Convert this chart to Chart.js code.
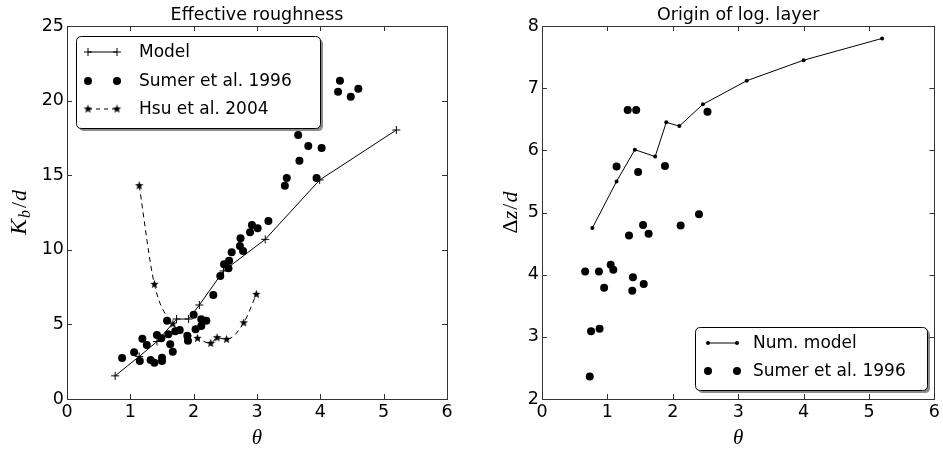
<!DOCTYPE html>
<html>
<head>
<meta charset="utf-8">
<script src="https://cdn.jsdelivr.net/npm/chart.js@4"></script>
<style>
    body { margin: 0; background: #fff; }
    #wrap { position: relative; width: 943px; height: 451px; }
    #leftChart { position: absolute; left: 0; top: 0; }
    #rightChart { position: absolute; left: 480px; top: 0; }
</style>
</head>
<body>
<div id="wrap">
    <canvas id="leftChart" width="480" height="451"></canvas>
    <canvas id="rightChart" width="463" height="451"></canvas>
</div>
<script>
// Dados - rugosidade efetiva (painel esquerdo)
const modelTheta = [0.76, 1.14, 1.42, 1.73, 1.92, 2.09, 2.47, 3.13, 3.99, 5.2];
const modelKb = [1.55, 2.85, 3.85, 5.36, 5.36, 6.3, 8.58, 10.7, 14.68, 18.03];

const sumerTheta = [0.87, 1.06, 1.15, 1.19, 1.26, 1.32, 1.38, 1.50, 1.50, 1.42, 1.49, 1.60, 1.63, 1.67,
    1.58, 1.71, 1.78, 1.90, 1.91, 2.00, 2.03, 2.12, 2.12, 2.20, 2.31, 2.42, 2.48, 2.55, 2.56, 2.60,
    2.73, 2.74, 2.78, 2.89, 2.92, 3.01, 3.18, 3.44, 3.47, 3.65, 3.67, 3.81, 3.94, 4.02, 4.28, 4.31, 4.48, 4.60];
const sumerKb = [2.75, 3.13, 2.55, 4.04, 3.62, 2.61, 2.43, 2.77, 2.55, 4.29, 4.07, 4.34, 3.67, 3.17,
    5.25, 4.54, 4.62, 4.24, 3.91, 5.65, 4.67, 5.34, 4.89, 5.25, 6.97, 8.24, 9.03, 8.76, 9.27, 9.83,
    10.25, 10.77, 9.92, 11.17, 11.66, 11.44, 11.93, 14.30, 14.81, 17.70, 15.97, 16.96, 14.81, 16.82, 20.60, 21.33, 20.26, 20.80];

const hsuTheta = [1.14, 1.38, 1.67, 2.06, 2.27, 2.37, 2.52, 2.79, 2.99];
const hsuKb = [14.3, 7.69, 5.03, 4.07, 3.73, 4.11, 4.0, 5.11, 7.02];

// Dados - origem da camada log (painel direito)
const numTheta = [0.77, 1.14, 1.42, 1.73, 1.90, 2.10, 2.46, 3.13, 4.0, 5.2];
const numDz = [4.75, 5.50, 6.01, 5.90, 6.45, 6.39, 6.74, 7.12, 7.45, 7.80];

const sumerDzTheta = [1.31, 1.44, 1.14, 1.47, 1.88, 2.53, 2.40, 1.33, 1.545, 1.63, 2.12, 0.66, 0.87,
    1.05, 1.09, 0.95, 1.39, 1.38, 1.555, 0.75, 0.88, 0.73];
const sumerDz = [6.65, 6.65, 5.74, 5.65, 5.75, 6.62, 4.97, 4.63, 4.80, 4.66, 4.79, 4.05, 4.05,
    4.16, 4.08, 3.79, 3.96, 3.74, 3.85, 3.09, 3.13, 2.36];

const thetaTicks = [0, 1, 2, 3, 4, 5, 6];

const FONT = '"DejaVu Sans", sans-serif';
const MATH = '"Liberation Serif", "DejaVu Serif", serif';

function toPoints(xs, ys) {
    return xs.map((x, i) => ({ x: x, y: ys[i] }));
}

// Estrela preenchida (marcador '*')
function makeStar(r) {
    const c = document.createElement('canvas');
    const s = Math.ceil(r * 2 + 2);
    c.width = s; c.height = s;
    const ctx = c.getContext('2d');
    ctx.fillStyle = '#000';
    ctx.beginPath();
    for (let i = 0; i < 10; i++) {
        const rad = i % 2 === 0 ? r : r * 0.42;
        const a = -Math.PI / 2 + i * Math.PI / 5;
        const px = s / 2 + rad * Math.cos(a);
        const py = s / 2 + rad * Math.sin(a);
        if (i === 0) ctx.moveTo(px, py); else ctx.lineTo(px, py);
    }
    ctx.closePath();
    ctx.fill();
    return c;
}
const starImg = makeStar(4.5);

function drawMarker(ctx, kind, x, y) {
    ctx.save();
    ctx.fillStyle = '#000';
    ctx.strokeStyle = '#000';
    ctx.lineWidth = 1;
    if (kind === 'cross') {
        ctx.beginPath();
        ctx.moveTo(x - 4, y); ctx.lineTo(x + 4, y);
        ctx.moveTo(x, y - 4); ctx.lineTo(x, y + 4);
        ctx.stroke();
    } else if (kind === 'dot') {
        ctx.beginPath(); ctx.arc(x, y, 4, 0, Math.PI * 2); ctx.fill();
    } else if (kind === 'small') {
        ctx.beginPath(); ctx.arc(x, y, 2, 0, Math.PI * 2); ctx.fill();
    } else if (kind === 'star') {
        ctx.drawImage(starImg, x - starImg.width / 2, y - starImg.height / 2);
    }
    ctx.restore();
}

// Plugin: moldura, ticks internos, título, rótulos e legenda no estilo matplotlib
const framePlugin = {
    id: 'frame',
    afterDraw(chart, args, opts) {
        const ctx = chart.ctx;
        const a = chart.chartArea;
        const xs = chart.scales.x, ys = chart.scales.y;
        ctx.save();
        ctx.strokeStyle = '#333';
        ctx.lineWidth = 1;
        ctx.strokeRect(Math.round(a.left) + 0.5, Math.round(a.top) + 0.5,
            Math.round(a.right - a.left), Math.round(a.bottom - a.top));
        ctx.beginPath();
        xs.ticks.forEach(t => {
            const px = Math.round(xs.getPixelForValue(t.value)) + 0.5;
            ctx.moveTo(px, a.bottom); ctx.lineTo(px, a.bottom - 5);
            ctx.moveTo(px, a.top); ctx.lineTo(px, a.top + 5);
        });
        ys.ticks.forEach(t => {
            const py = Math.round(ys.getPixelForValue(t.value)) + 0.5;
            ctx.moveTo(a.left, py); ctx.lineTo(a.left + 5, py);
            ctx.moveTo(a.right, py); ctx.lineTo(a.right - 5, py);
        });
        ctx.stroke();

        // Título
        ctx.fillStyle = '#000';
        ctx.font = '17.5px ' + FONT;
        ctx.textAlign = 'center';
        ctx.textBaseline = 'alphabetic';
        ctx.fillText(opts.title, (a.left + a.right) / 2, 20);

        // Rótulo do eixo x (theta)
        ctx.font = 'italic 21px ' + MATH;
        ctx.fillText('\u03b8', (a.left + a.right) / 2, 444);

        // Rótulo do eixo y
        ctx.save();
        ctx.translate(opts.ylabelX, (a.top + a.bottom) / 2);
        ctx.rotate(-Math.PI / 2);
        const parts = opts.ylabel;
        let total = 0;
        parts.forEach(p => { ctx.font = p.font; total += ctx.measureText(p.text).width + (p.gap || 0); });
        let cx = -total / 2;
        ctx.textAlign = 'left';
        parts.forEach(p => {
            ctx.font = p.font;
            ctx.fillText(p.text, cx, 7 + (p.dy || 0));
            cx += ctx.measureText(p.text).width + (p.gap || 0);
        });
        ctx.restore();

        // Legenda
        const lg = opts.legend;
        ctx.save();
        ctx.fillStyle = 'rgba(0,0,0,0.45)';
        roundRect(ctx, lg.x + 3, lg.y + 3, lg.w, lg.h, 5);
        ctx.fill();
        ctx.fillStyle = '#fff';
        ctx.strokeStyle = '#000';
        ctx.lineWidth = 1;
        roundRect(ctx, lg.x + 0.5, lg.y + 0.5, lg.w, lg.h, 5);
        ctx.fill();
        ctx.stroke();
        lg.items.forEach((it, i) => {
            const y = lg.rowY[i];
            if (it.line) {
                ctx.beginPath();
                ctx.setLineDash(it.dash || []);
                ctx.moveTo(lg.mx0, y); ctx.lineTo(lg.mx1, y);
                ctx.stroke();
                ctx.setLineDash([]);
            }
            drawMarker(ctx, it.marker, lg.mx0, y);
            drawMarker(ctx, it.marker, lg.mx1, y);
            ctx.fillStyle = '#000';
            ctx.font = '17px ' + FONT;
            ctx.textAlign = 'left';
            ctx.textBaseline = 'middle';
            ctx.fillText(it.label, lg.tx, y + 1);
        });
        ctx.restore();
        ctx.restore();
    }
};

function roundRect(ctx, x, y, w, h, r) {
    ctx.beginPath();
    ctx.moveTo(x + r, y);
    ctx.lineTo(x + w - r, y);
    ctx.quadraticCurveTo(x + w, y, x + w, y + r);
    ctx.lineTo(x + w, y + h - r);
    ctx.quadraticCurveTo(x + w, y + h, x + w - r, y + h);
    ctx.lineTo(x + r, y + h);
    ctx.quadraticCurveTo(x, y + h, x, y + h - r);
    ctx.lineTo(x, y + r);
    ctx.quadraticCurveTo(x, y, x + r, y);
    ctx.closePath();
}

function axisOptions(min, max, step, yWidth) {
    return {
        x: {
            type: 'linear', min: 0, max: 6,
            afterBuildTicks: s => { s.ticks = thetaTicks.map(v => ({ value: v })); },
            afterFit: s => { s.height = 52; },
            grid: { display: false, drawTicks: false },
            border: { display: false },
            ticks: { color: '#000', padding: 3, font: { family: FONT, size: 17.5 } }
        },
        y: {
            type: 'linear', min: min, max: max,
            afterFit: s => { s.width = yWidth; },
            grid: { display: false, drawTicks: false },
            border: { display: false },
            ticks: { stepSize: step, color: '#000', padding: 3, font: { family: FONT, size: 17.5 } }
        }
    };
}

// Gráfico esquerdo
new Chart(document.getElementById('leftChart'), {
    type: 'scatter',
    data: {
        datasets: [{
            label: 'Model',
            data: toPoints(modelTheta, modelKb),
            showLine: true,
            borderColor: '#000',
            borderWidth: 1,
            pointStyle: 'cross',
            pointRadius: 4,
            pointBorderWidth: 1,
            pointBorderColor: '#000'
        }, {
            label: 'Sumer et al. 1996',
            data: toPoints(sumerTheta, sumerKb),
            pointStyle: 'circle',
            pointRadius: 4,
            pointBorderWidth: 0,
            backgroundColor: '#000'
        }, {
            label: 'Hsu et al. 2004',
            data: toPoints(hsuTheta, hsuKb),
            showLine: true,
            borderColor: '#000',
            borderWidth: 1,
            borderDash: [5, 4],
            cubicInterpolationMode: 'monotone',
            pointStyle: starImg,
            pointRadius: 4
        }]
    },
    options: {
        responsive: false,
        animation: false,
        layout: { padding: { left: 0, right: 33, top: 26, bottom: 0 } },
        scales: axisOptions(0, 25, 5, 67),
        plugins: {
            legend: { display: false },
            tooltip: { enabled: false },
            frame: {
                title: 'Effective roughness',
                ylabelX: 19,
                ylabel: [
                    { text: 'K', font: 'italic 24px ' + MATH, gap: 1 },
                    { text: 'b', font: 'italic 16px ' + MATH, dy: 4, gap: 2 },
                    { text: '/', font: '22px ' + MATH, gap: 1 },
                    { text: 'd', font: 'italic 22px ' + MATH }
                ],
                legend: {
                    x: 76, y: 36, w: 244, h: 92,
                    mx0: 88, mx1: 117, tx: 139,
                    rowY: [52, 81, 109],
                    items: [
                        { label: 'Model', marker: 'cross', line: true },
                        { label: 'Sumer et al. 1996', marker: 'dot', line: false },
                        { label: 'Hsu et al. 2004', marker: 'star', line: true, dash: [4, 4] }
                    ]
                }
            }
        }
    },
    plugins: [framePlugin]
});

// Gráfico direito
new Chart(document.getElementById('rightChart'), {
    type: 'scatter',
    data: {
        datasets: [{
            label: 'Num. model',
            data: toPoints(numTheta, numDz),
            showLine: true,
            borderColor: '#000',
            borderWidth: 1,
            pointStyle: 'circle',
            pointRadius: 2,
            pointBorderWidth: 0,
            backgroundColor: '#000'
        }, {
            label: 'Sumer et al. 1996',
            data: toPoints(sumerDzTheta, sumerDz),
            pointStyle: 'circle',
            pointRadius: 4,
            pointBorderWidth: 0,
            backgroundColor: '#000'
        }]
    },
    options: {
        responsive: false,
        animation: false,
        layout: { padding: { left: 0, right: 5, top: 26, bottom: 0 } },
        scales: axisOptions(2, 8, 1, 62),
        plugins: {
            legend: { display: false },
            tooltip: { enabled: false },
            frame: {
                title: 'Origin of log. layer',
                ylabelX: 30,
                ylabel: [
                    { text: '\u0394', font: '22px ' + MATH },
                    { text: 'z', font: 'italic 22px ' + MATH, gap: 1 },
                    { text: '/', font: '22px ' + MATH, gap: 1 },
                    { text: 'd', font: 'italic 22px ' + MATH }
                ],
                legend: {
                    x: 215, y: 327, w: 232, h: 63,
                    mx0: 228, mx1: 257, tx: 273,
                    rowY: [343, 371],
                    items: [
                        { label: 'Num. model', marker: 'small', line: true },
                        { label: 'Sumer et al. 1996', marker: 'dot', line: false }
                    ]
                }
            }
        }
    },
    plugins: [framePlugin]
});
</script>
</body>
</html>
